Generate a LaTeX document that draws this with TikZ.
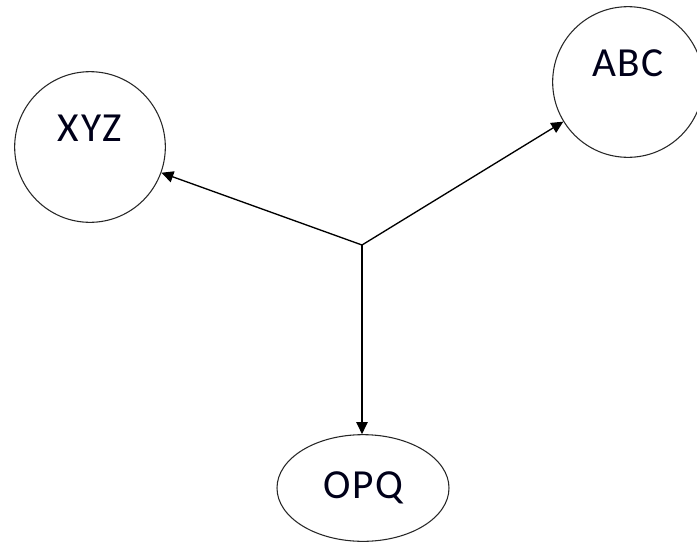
\documentclass[tikz,border=0pt]{standalone}
\usepackage{fontspec}
\setmainfont{Carlito}
\usetikzlibrary{arrows.meta, shapes.geometric}

\begin{document}
\begin{tikzpicture}[>={Triangle[length=9pt, width=8.5pt]}, x=0.75pt, y=-0.75pt]
    \tikzset{
      bubble/.style={draw=black!85, line width=0.8pt, circle, minimum size=113pt, inner sep=0pt, text depth=28pt},
      oval/.style={draw=black!85, line width=0.8pt, ellipse, minimum width=129pt, minimum height=80pt, inner sep=0pt},
      tag/.style={font=\fontsize{31}{36}\selectfont\addfontfeature{LetterSpace=4}, text=black!90!blue},
      link/.style={->, line width=1pt}
    }
    \useasboundingbox (0,0) rectangle (697,544);

    % Nodes
    \node[bubble, tag] (xyz) at (90,147) {XYZ};
    \node[bubble, tag] (abc) at (628,82) {ABC};
    \node[oval, tag] (opq) at (363,488) {OPQ};

    % Branch point
    \coordinate (hub) at (362,245);

    % Arrows
    \draw[link] (hub) -- (xyz);
    \draw[link] (hub) -- (abc);
    \draw[link] (hub) -- (hub |- opq.north);
  \end{tikzpicture}
\end{document}
